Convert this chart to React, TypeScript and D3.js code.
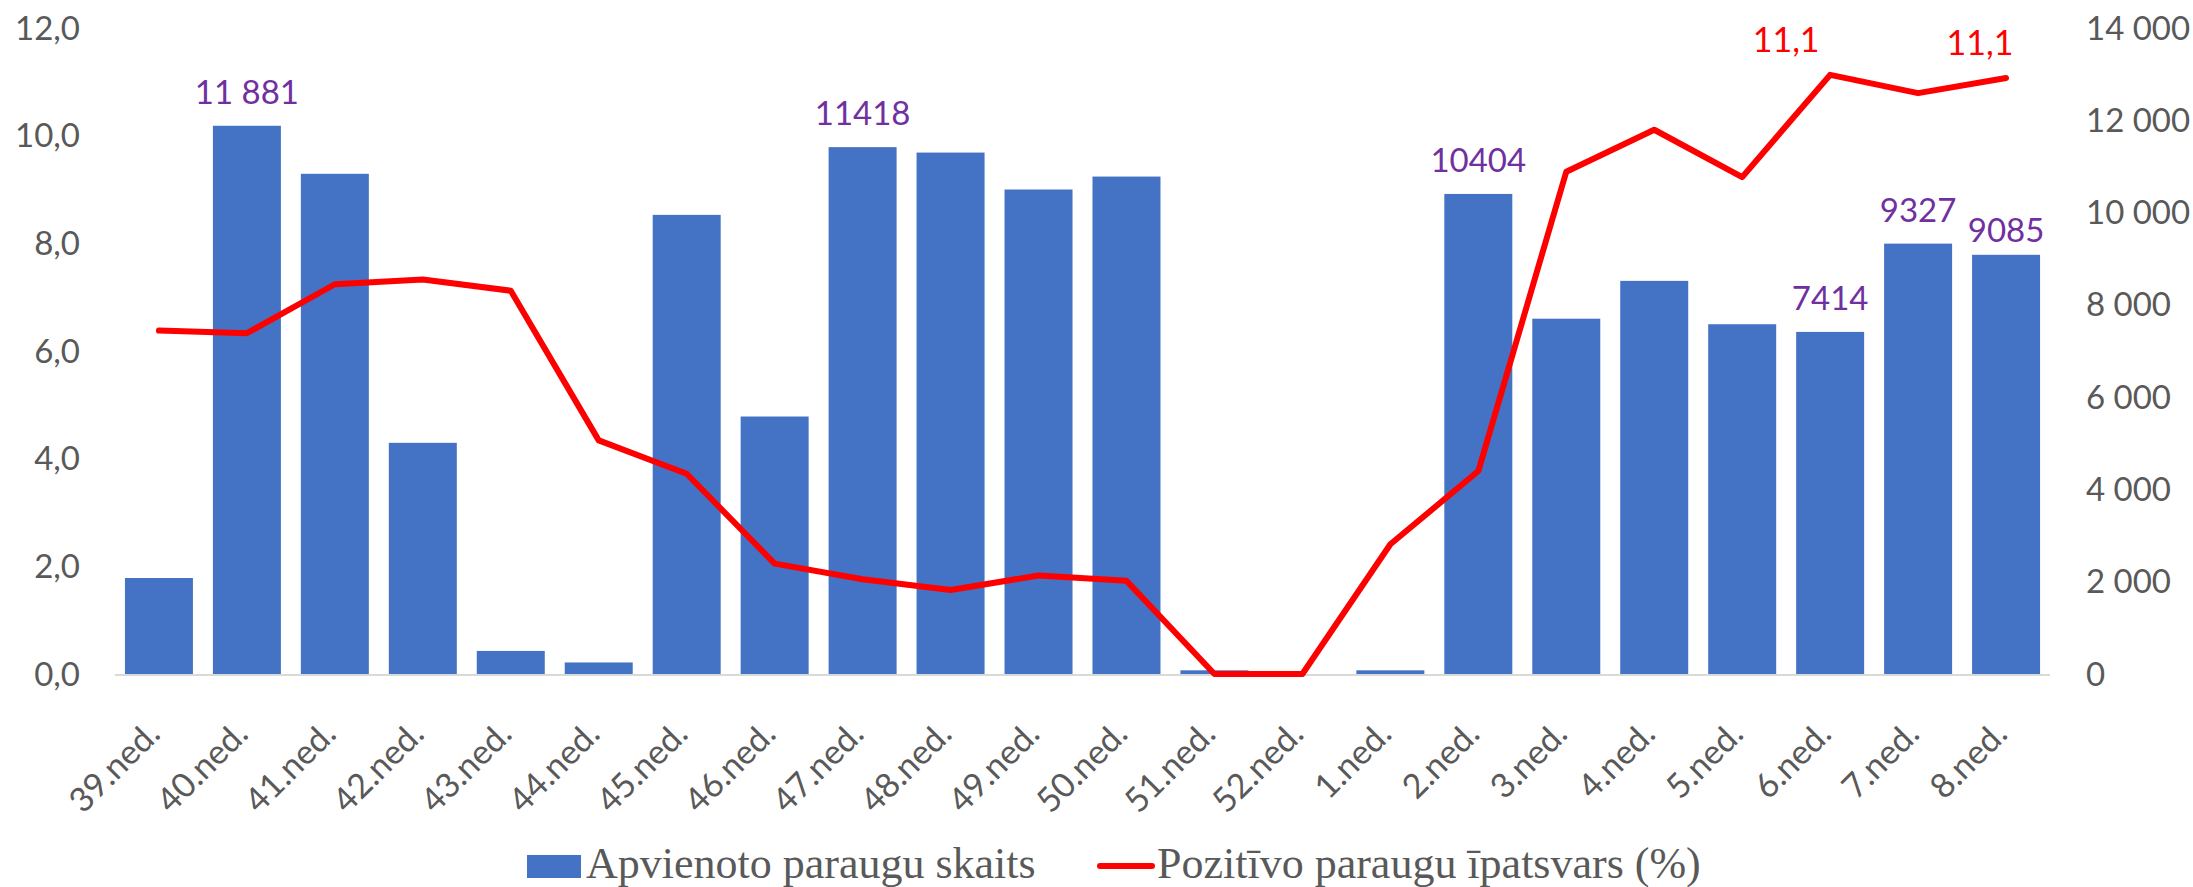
import React from "react";
import * as d3 from "d3";

const categories = ["39.ned.", "40.ned.", "41.ned.", "42.ned.", "43.ned.", "44.ned.", "45.ned.", "46.ned.", "47.ned.", "48.ned.", "49.ned.", "50.ned.", "51.ned.", "52.ned.", "1.ned.", "2.ned.", "3.ned.", "4.ned.", "5.ned.", "6.ned.", "7.ned.", "8.ned."];
const sampleCounts = [2080, 11881, 10840, 5010, 500, 250, 9950, 5580, 11418, 11300, 10500, 10780, 80, 0, 80, 10404, 7700, 8520, 7580, 7414, 9327, 9085];
const positiveShare = [6.38, 6.33, 7.24, 7.33, 7.12, 4.34, 3.72, 2.05, 1.76, 1.56, 1.83, 1.73, 0, 0, 2.41, 3.77, 9.33, 10.11, 9.23, 11.13, 10.79, 11.07];
const barLabels = [null, "11 881", null, null, null, null, null, null, "11418", null, null, null, null, null, null, "10404", null, null, null, "7414", "9327", "9085"];
const lineLabelIdx = [19, 21];
const leftTicks = [0, 2, 4, 6, 8, 10, 12];
const rightTicks = [0, 2000, 4000, 6000, 8000, 10000, 12000, 14000];
const seriesNames = ["Apvienoto paraugu skaits", "Pozitīvo paraugu īpatsvars (%)"];

const W = 2193, H = 887;
const M = { left: 115, right: 2050, top: 28, bottom: 674 };
const SANS = "Lato, 'Open Sans', sans-serif";
const SERIF = "'Liberation Serif', 'Times New Roman', serif";
const GREY = "#595959";

export default function App() {
  const x = d3.scaleBand<string>().domain(categories).range([M.left, M.right]).paddingInner(0.227).paddingOuter(0.113);
  const yL = d3.scaleLinear().domain([0, 12]).range([M.bottom, M.top]);
  const yR = d3.scaleLinear().domain([0, 14000]).range([M.bottom, M.top]);
  const cx = (c: string) => (x(c) as number) + x.bandwidth() / 2;
  const line = d3.line<number>().x((_, i) => cx(categories[i])).y((d) => yL(d));
  const fmtL = (v: number) => v.toFixed(1).replace(".", ",");
  const fmtR = (v: number) => d3.format(",")(v).replace(/,/g, " ");

  return (
    <svg width={W} height={H} style={{ position: "absolute", left: 0, top: 0, background: "#fff" }}>
      <rect x={0} y={0} width={W} height={H} fill="#fff" />
      {leftTicks.map((t) => (
        <text key={"l" + t} x={80} y={yL(t)} dy="0.35em" textAnchor="end" fontFamily={SANS} fontSize={33} fill={GREY}>{fmtL(t)}</text>
      ))}
      {rightTicks.map((t) => (
        <text key={"r" + t} x={2086} y={yR(t)} dy="0.35em" textAnchor="start" fontFamily={SANS} fontSize={33} fill={GREY}>{fmtR(t)}</text>
      ))}
      {categories.map((c, i) => (
        <rect key={"b" + c} x={x(c)} y={yR(sampleCounts[i])} width={x.bandwidth()} height={M.bottom - yR(sampleCounts[i])} fill="#4472C4" />
      ))}
      <line x1={M.left} x2={M.right} y1={M.bottom + 1} y2={M.bottom + 1} stroke="#D9D9D9" strokeWidth={2} />
      <path d={line(positiveShare) || ""} fill="none" stroke="#FF0000" strokeWidth={6} strokeLinejoin="round" strokeLinecap="round" />
      {categories.map((c, i) =>
        barLabels[i] ? (
          <text key={"bl" + c} x={cx(c)} y={yR(sampleCounts[i]) - (i === 21 ? 13 : 22)} textAnchor="middle" fontFamily={SANS} fontSize={33} fill="#7030A0" style={{ whiteSpace: "pre" }}>{barLabels[i]}</text>
        ) : null
      )}
      {lineLabelIdx.map((i, k) => (
        <text key={"ll" + i} x={cx(categories[i]) - (k === 0 ? 44 : 26)} y={yL(positiveShare[i]) - 23} textAnchor="middle" fontFamily={SANS} fontSize={34} fill="#FF0000">{fmtL(positiveShare[i])}</text>
      ))}
      {categories.map((c) => (
        <text key={"xt" + c} transform={`translate(${cx(c) + 3},${M.bottom + 62}) rotate(-45)`} textAnchor="end" fontFamily={SANS} fontSize={34} fill={GREY}>{c}</text>
      ))}
      <rect x={527} y={855} width={54} height={23} fill="#4472C4" />
      <text x={586} y={878} fontFamily={SERIF} fontSize={44} fill={GREY}>{seriesNames[0]}</text>
      <line x1={1100} x2={1152} y1={866} y2={866} stroke="#FF0000" strokeWidth={6} strokeLinecap="round" />
      <text x={1157} y={878} fontFamily={SERIF} fontSize={44} fill={GREY}>{seriesNames[1]}</text>
    </svg>
  );
}
